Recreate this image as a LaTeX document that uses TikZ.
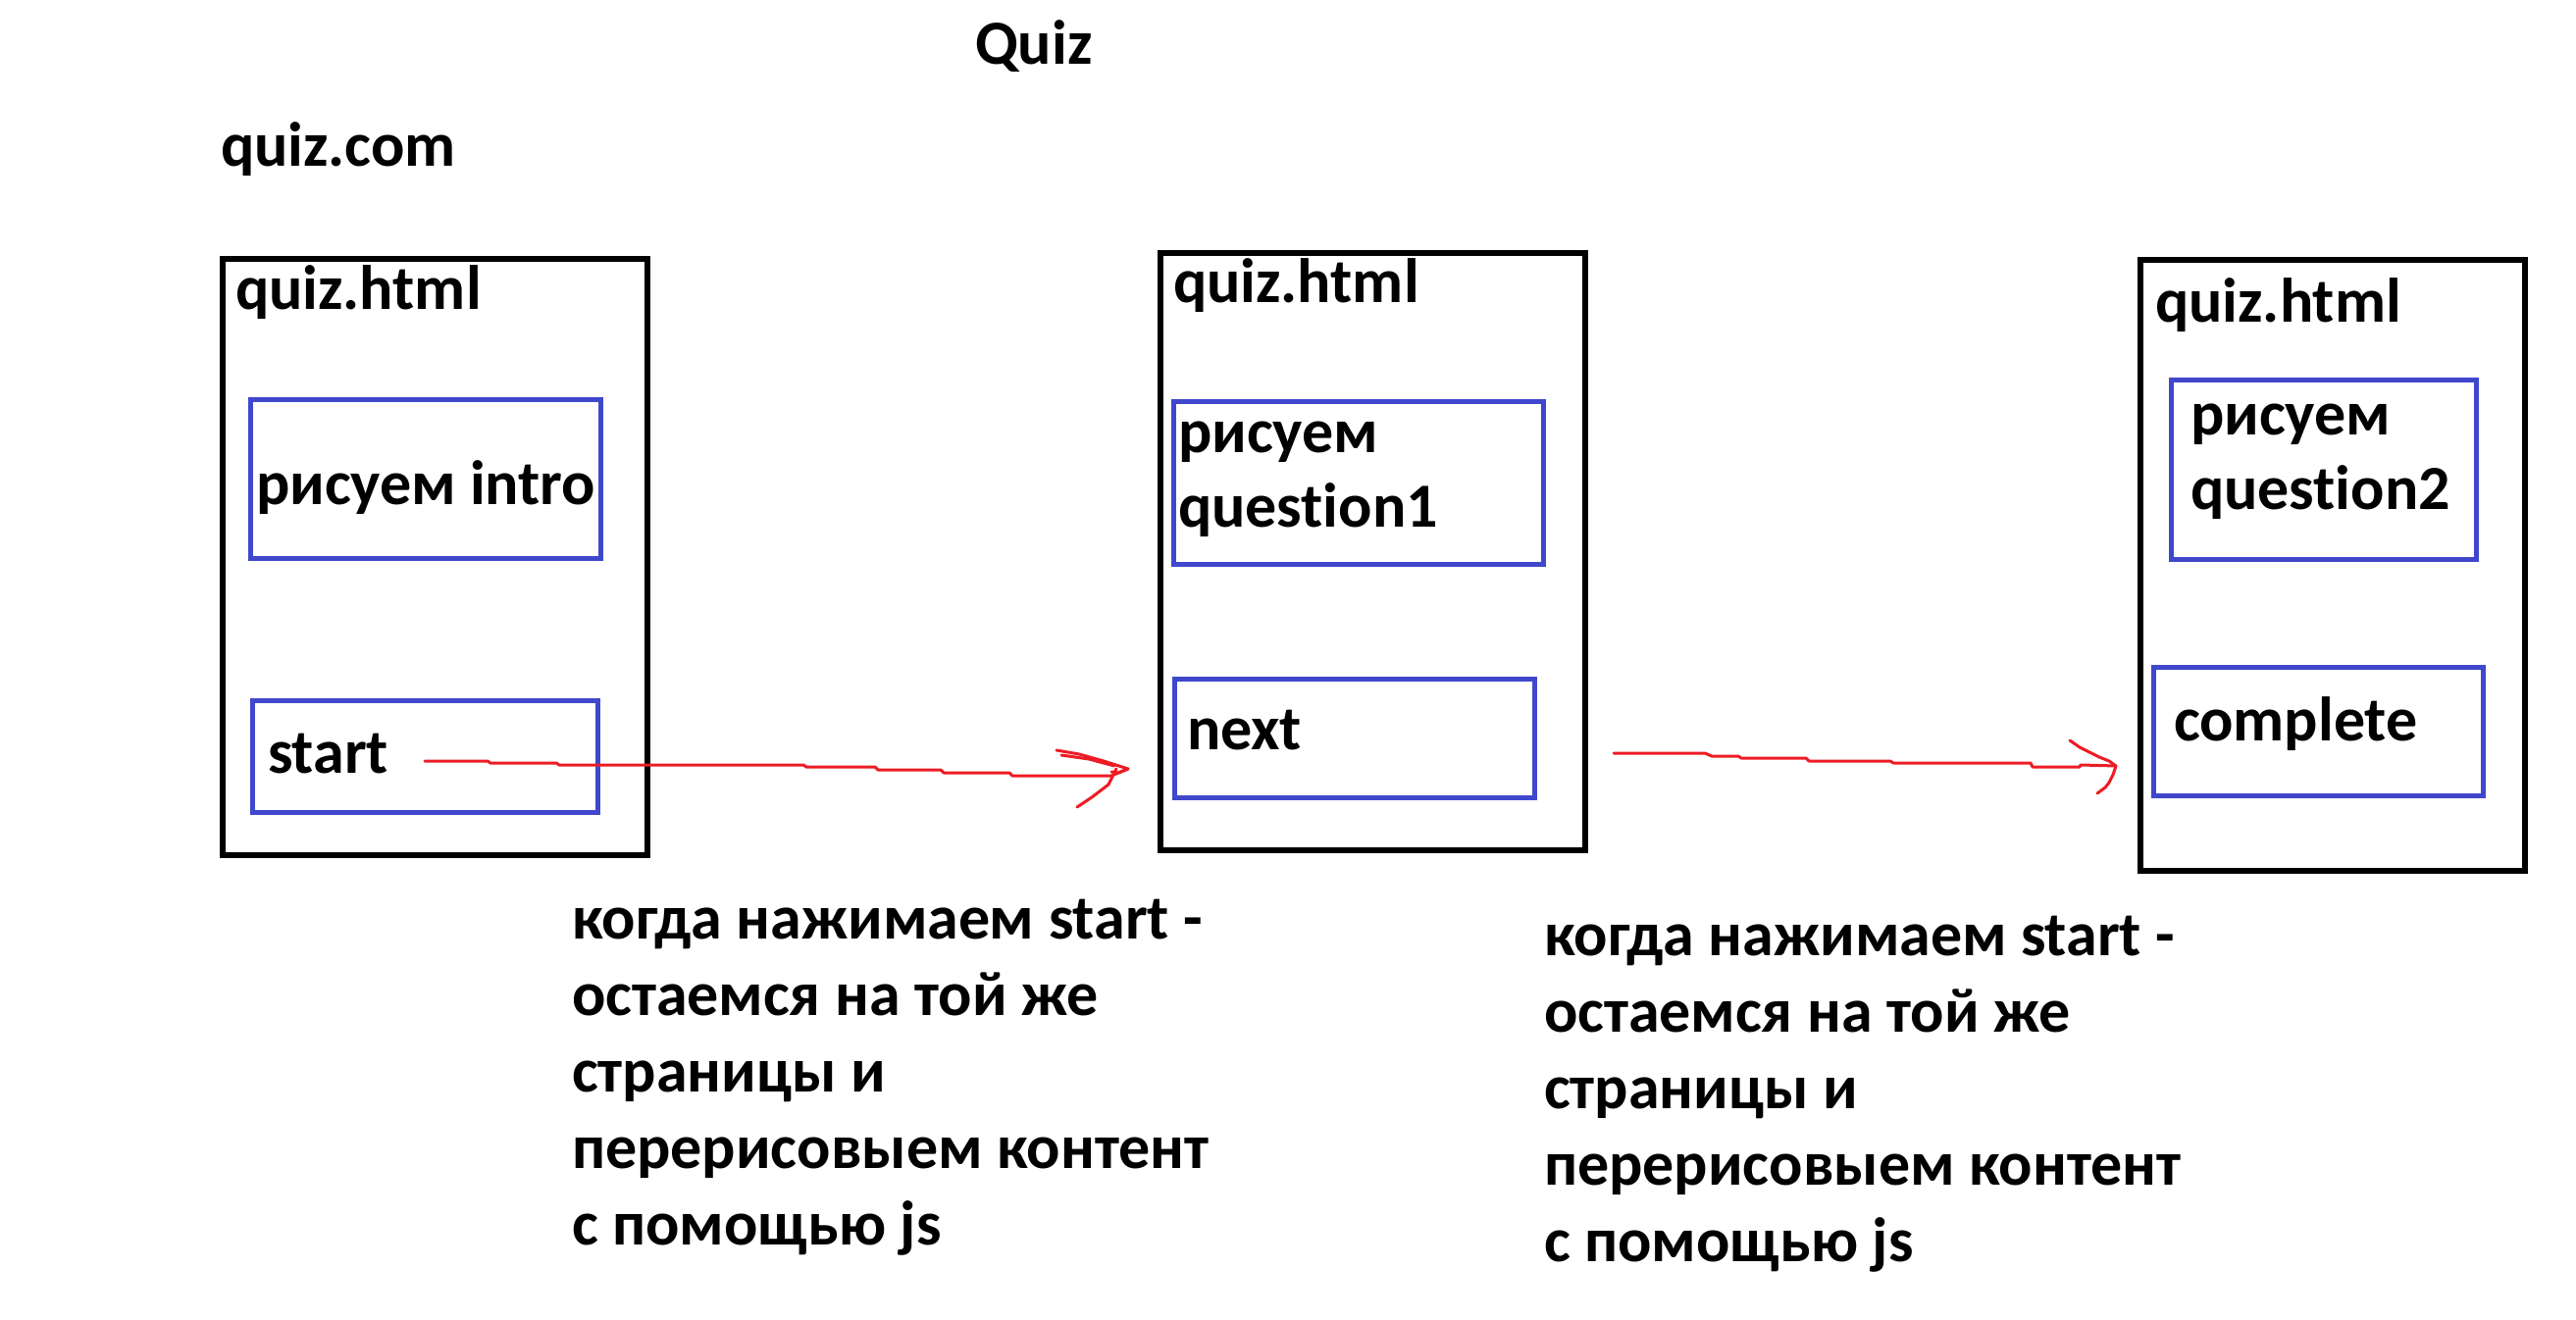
\documentclass[tikz,border=0pt]{standalone}
\usepackage{fontspec}
\setmainfont{Carlito}[Ligatures=NoCommon]
\definecolor{paintblue}{RGB}{63,72,204}
\definecolor{paintred}{RGB}{237,28,36}
\newcommand\dfont{\fontsize{64bp}{78bp}\selectfont\bfseries}
\newcommand\dfontb{\fontsize{64bp}{76bp}\selectfont\bfseries}
\begin{document}
\begin{tikzpicture}[x=1bp,y=-1bp,
  page/.style={draw=black,line width=6bp,inner sep=0pt,outer sep=0pt},
  part/.style={draw=paintblue,line width=5bp,inner sep=0pt,outer sep=0pt},
  lbl/.style={anchor=base west,inner sep=0pt,outer sep=0pt,font=\dfont},
  lblb/.style={anchor=base west,inner sep=0pt,outer sep=0pt,font=\dfontb,align=left},
  note/.style={anchor=base west,inner sep=0pt,outer sep=0pt,font=\dfont,align=left},
  link/.style={draw=paintred,line width=3bp,line join=round,line cap=round}]
\useasboundingbox (0,0) rectangle (2626,1346);

% titles
\node[lbl] (title) at (994,66) {Quiz};
\node[lbl] (site) at (225,170) {quiz.com};

% pages
\node[page,minimum width=433bp,minimum height=608bp] (p1) at (443.5,568) {};
\node[page,minimum width=433bp,minimum height=609bp] (p2) at (1399.5,562.5) {};
\node[page,minimum width=392bp,minimum height=623bp] (p3) at (2378,576.5) {};

\node[lbl] (p1t) at (240,316) {quiz.html};
\node[lbl] (p2t) at (1196,309) {quiz.html};
\node[lbl] (p3t) at (2197,329) {quiz.html};

% parts
\node[part,minimum width=357bp,minimum height=162bp] (intro) at (434,488.5) {};
\node[part,minimum width=352bp,minimum height=114bp] (start) at (433.5,771.5) {};
\node[part,minimum width=377bp,minimum height=166bp] (q1) at (1385,492.5) {};
\node[part,minimum width=367bp,minimum height=121bp] (next) at (1381,753) {};
\node[part,minimum width=311bp,minimum height=183bp] (q2) at (2369,479) {};
\node[part,minimum width=336bp,minimum height=131bp] (complete) at (2363.5,746) {};

\node[lbl] (introt) at (261,514) {рисуем intro};
\node[lbl] (startt) at (273,788) {start};
\node[lblb] (q1t) at (1201,537) {рисуем\\question1};
\node[lbl] (nextt) at (1210,764) {next};
\node[lblb] (q2t) at (2233,519) {рисуем\\question2};
\node[lbl] (completet) at (2216,755) {complete};

% notes (anchored at the baseline of their last line)
\node[note] (n1) at (583,1269) {когда нажимаем start -\\остаемся на той же\\страницы и\\перерисовыем контент\\с помощью js};
\node[note] (n2) at (1574,1286) {когда нажимаем start -\\остаемся на той же\\страницы и\\перерисовыем контент\\с помощью js};

% arrow 1
\coordinate (a1s) at (433,776);
\coordinate (a1t) at (1150,784);
\draw[link] (a1s) -- (497,776) -- (500,778) -- (567,778) -- (570,780) -- (819,780) -- (822,782) -- (892,782) -- (895,785) -- (959,785) -- (962,788) -- (1029,788) -- (1032,791) -- (1133,791) -- (a1t);
\draw[link] (1077,765) -- (1100,769) -- (1125,776) -- (a1t) -- (1140,788) -- (1133,787);
\draw[link] (1082,770) -- (1110,774) -- (1136,781);
\draw[link] (1138,784) -- (1130,800) -- (1113,813) -- (1098,823);

% arrow 2
\coordinate (a2s) at (1645,768);
\coordinate (a2t) at (2157,781);
\draw[link] (a2s) -- (1738,768) -- (1745,771) -- (1772,771) -- (1775,773) -- (1841,773) -- (1844,776) -- (1927,776) -- (1930,778) -- (2070,778) -- (2072,782) -- (2120,782) -- (2121,780) -- (a2t);
\draw[link] (2110,755) -- (2120,762) -- (2130,767) -- (2140,772) -- (2150,776) -- (a2t) -- (2154,790) -- (2150,798) -- (2146,803) -- (2138,809);
\end{tikzpicture}
\end{document}
